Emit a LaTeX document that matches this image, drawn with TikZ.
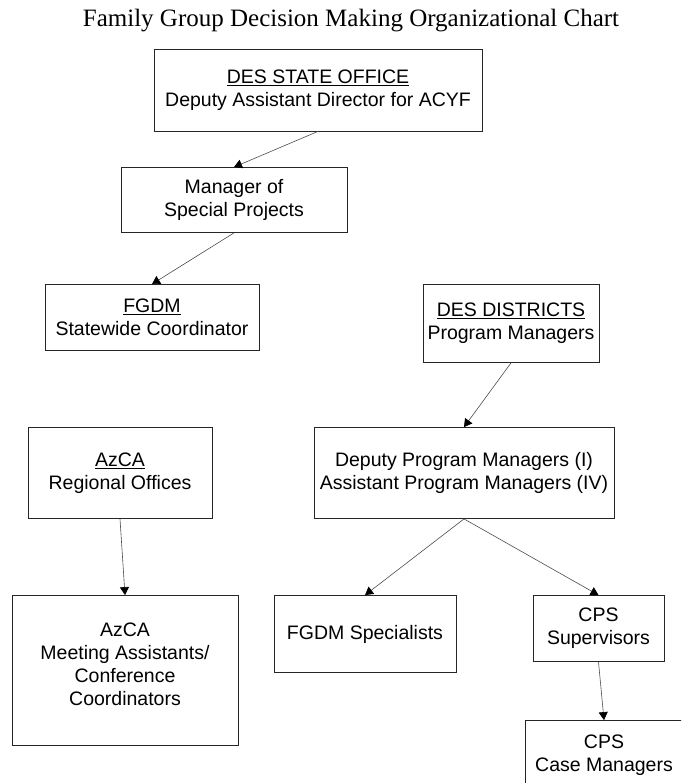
\documentclass[tikz,border=0pt]{standalone}
\usepackage{fontspec}
\setmainfont{Liberation Serif}
\setsansfont{Liberation Sans}
\usetikzlibrary{arrows.meta}
\tikzstyle{titletext} = [anchor=base, inner sep=0pt, font=\rmfamily\fontsize{25}{30}\selectfont]
\tikzstyle{box} = [rectangle, draw=black!85, line width=0.8pt, inner sep=0pt, text centered, align=center, font=\sffamily\fontsize{19.5}{23}\selectfont]
\tikzstyle{arrow} = [line width=0.6pt, draw=black!70, ->, >={Triangle[length=8pt, width=9pt, black]}]

\begin{document}
\begin{tikzpicture}[x=1pt, y=1pt, node distance=110pt]
\useasboundingbox (0,0) rectangle (681,-783);
\clip (0,0) rectangle (681,-783);

\node (title) [titletext] at (351,-27) {Family Group Decision Making Organizational Chart};

\node (state) [box, minimum width=328pt, minimum height=82pt] at (318,-90) {\underline{DES STATE OFFICE}\\Deputy Assistant Director for ACYF};
\node (mgr) [box, minimum width=226pt, minimum height=65pt, below of=state, xshift=-84pt] {Manager of\\Special Projects};
\node (fgdm) [box, minimum width=214pt, minimum height=66pt, below of=mgr, xshift=-82pt, yshift=-7.5pt] {\underline{FGDM}\\Statewide Coordinator};
\node (districts) [box, minimum width=176pt, minimum height=78pt, right of=fgdm, xshift=249pt, yshift=-6pt] {\underline{DES DISTRICTS}\\Program Managers};
\node (azca) [box, minimum width=184pt, minimum height=91pt, below of=fgdm, xshift=-32pt, yshift=-45.5pt] {\underline{AzCA}\\Regional Offices};
\node (deputy) [box, minimum width=300pt, minimum height=91pt, below of=districts, xshift=-47pt, yshift=-39.5pt] {Deputy Program Managers (I)\\Assistant Program Managers (IV)};
\node (assist) [box, minimum width=226pt, minimum height=150pt, text depth=12pt, below of=azca, xshift=5pt, yshift=-87.5pt] {AzCA\\Meeting Assistants/\\Conference\\Coordinators};
\node (spec) [box, minimum width=182pt, minimum height=77pt, below of=deputy, xshift=-99pt, yshift=-51pt] {FGDM Specialists};
\node (sup) [box, minimum width=131pt, minimum height=66pt, below of=deputy, xshift=134.5pt, yshift=-45.5pt] {CPS\\Supervisors};
\node (casemgr) [box, minimum width=158pt, minimum height=70pt, below of=sup, xshift=5.5pt, yshift=-17pt] {CPS\\Case Managers};

\draw [arrow] (state.south) -- (mgr.north);
\draw [arrow] (mgr.south) -- (fgdm.north);
\draw [arrow] (districts.south) -- (deputy.north);
\draw [arrow] (azca.south) -- (assist.north);
\draw [arrow] (deputy.south) -- (spec.north);
\draw [arrow] (deputy.south) -- (sup.north);
\draw [arrow] (sup.south) -- (casemgr.north);

\end{tikzpicture}
\end{document}
